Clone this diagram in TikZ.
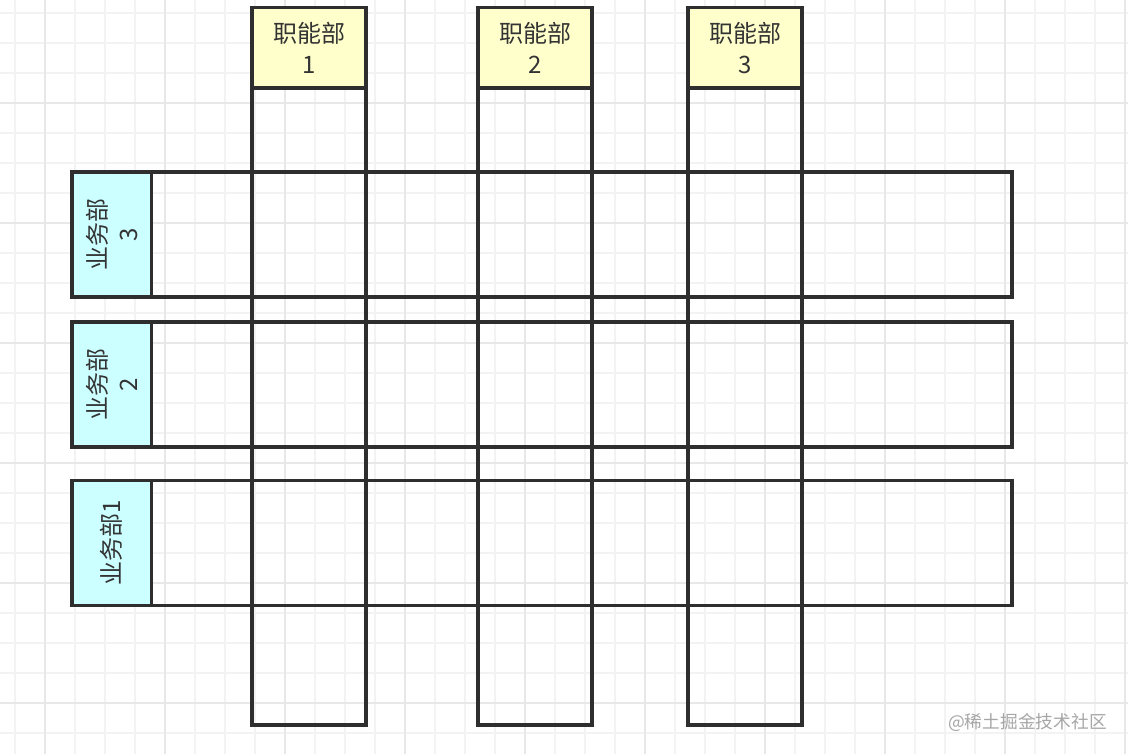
\documentclass[tikz,border=0pt]{standalone}
\usepackage{fontspec}
\newfontfamily\cjk{Noto Sans CJK SC}
\begin{document}
\begin{tikzpicture}[x=0.75pt,y=-0.75pt,
  frame/.style={draw=black!82, line width=2.3pt, inner sep=0pt, outer sep=0pt},
  header/.style={frame, fill=headyellow, minimum width=114*0.75pt, minimum height=80.5*0.75pt,
    align=center, text=black!80, font=\cjk\fontsize{18}{23.25}\selectfont},
  column/.style={frame, minimum width=114*0.75pt, minimum height=717.5*0.75pt},
  rowbox/.style={frame, minimum width=940*0.75pt, minimum height=125*0.75pt},
  rowlabel/.style={frame, fill=labcyan, rotate=90, minimum width=125*0.75pt, minimum height=79.5*0.75pt,
    align=center, text=black!80, font=\cjk\fontsize{18}{23.25}\selectfont},
  minorgrid/.style={draw=gridminor, line width=1.2pt},
  majorgrid/.style={draw=gridmajor, line width=1.5pt},
]
\definecolor{headyellow}{HTML}{FFFFCC}
\definecolor{labcyan}{HTML}{CCFFFF}
\definecolor{gridminor}{HTML}{F3F3F3}
\definecolor{gridmajor}{HTML}{E8E8E8}
\useasboundingbox[fill=white] (0,0) rectangle (1128,754);
% grid
\foreach \gx in {15,45,...,1125} \draw[minorgrid] (\gx,0) -- (\gx,754);
\foreach \gy in {13,43,...,733} \draw[minorgrid] (0,\gy) -- (1128,\gy);
\foreach \gx in {45,165,...,1125} \draw[majorgrid] (\gx,0) -- (\gx,754);
\foreach \gy in {103,223,...,703} \draw[majorgrid] (0,\gy) -- (1128,\gy);
% columns
\node[column] (c1) at (309,366.25) {};
\node[column] (c2) at (535,366.25) {};
\node[column] (c3) at (745,366.25) {};
\node[header] (h1) at (309,47.75) {职能部\\1};
\node[header] (h2) at (535,47.75) {职能部\\2};
\node[header] (h3) at (745,47.75) {职能部\\3};
% rows
\node[rowbox] (r3) at (542,234.5) {};
\node[rowbox] (r2) at (542,384.5) {};
\node[rowbox] (r1) at (542,542.75) {};
\node[rowlabel] (l3) at (111.75,234.5) {业务部\\3};
\node[rowlabel] (l2) at (111.75,384.5) {业务部\\2};
\node[rowlabel] (l1) at (111.75,542.75) {业务部1};
% watermark
\node[anchor=east, inner sep=0pt, text=black!35, font=\cjk\fontsize{13.3}{15}\selectfont] (wm) at (1107,722) {@稀土掘金技术社区};
\end{tikzpicture}
\end{document}
